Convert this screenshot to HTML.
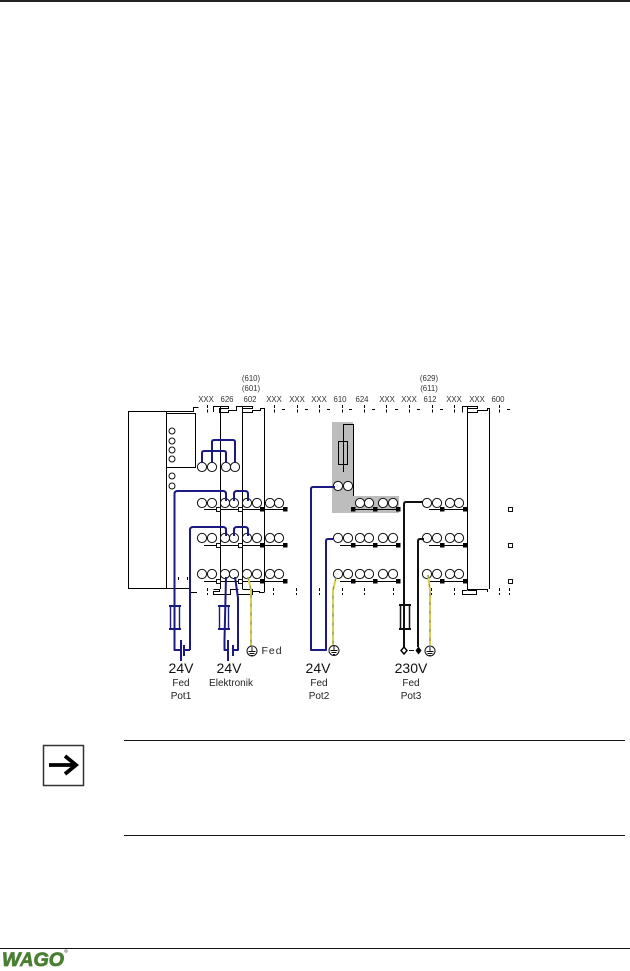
<!DOCTYPE html>
<html><head><meta charset="utf-8"><style>
html,body{margin:0;padding:0;background:#fff}
svg{display:block}
text{font-family:"Liberation Sans",sans-serif;fill:#222}
.b{fill:none;stroke:#1a1a80;stroke-width:2;stroke-linejoin:round}
.b1{fill:none;stroke:#1a1a80;stroke-width:1.4}
.k{fill:none;stroke:#000;stroke-width:1}
.kk{fill:none;stroke:#111;stroke-width:2}
.y{fill:none;stroke:#d8cf50;stroke-width:2}
.yd{fill:none;stroke:#7f9060;stroke-width:1;stroke-dasharray:3 6}
.c circle{fill:#fff;stroke:#111;stroke-width:1}
.t{font-size:7.800px;text-anchor:middle;fill:#333}
.l{font-size:10px;text-anchor:middle;fill:#222}
.v{font-size:14px;text-anchor:middle;fill:#111}
</style></head><body>
<svg width="630" height="971" viewBox="0 0 630 971" xmlns="http://www.w3.org/2000/svg">
<rect x="0" y="0" width="630" height="2" fill="#222"/>
<!-- grey -->
<path d="M332 422H353V496H399V513H332Z" fill="#bdbdbd"/>
<!-- labels -->
<text class="t" x="251" y="381">(610)</text><text class="t" x="251" y="391">(601)</text>
<text class="t" x="429" y="381">(629)</text><text class="t" x="429" y="391">(611)</text>
<text class="t" x="206" y="402">XXX</text><text class="t" x="227" y="402">626</text><text class="t" x="250" y="402">602</text>
<text class="t" x="274" y="402">XXX</text><text class="t" x="297" y="402">XXX</text><text class="t" x="319" y="402">XXX</text>
<text class="t" x="340" y="402">610</text><text class="t" x="362" y="402">624</text><text class="t" x="387" y="402">XXX</text>
<text class="t" x="409" y="402">XXX</text><text class="t" x="430" y="402">612</text><text class="t" x="454" y="402">XXX</text>
<text class="t" x="477" y="402">XXX</text><text class="t" x="498" y="402">600</text>
<!-- module -->
<path class="k" d="M166.500 411.500H128.500V588.500H166.500V411.500ZM166.500 413.500H195.500V467.500H166.500M166.500 411.500H193.500V407.500H198.500"/>
<path class="k" d="M166.500 588.500H190.500V592.500H197"/>
<!-- top connector outline -->
<path class="k" d="M213.500 412V406.500H228.500V408.500H219.500V412.500H228.500V410.500H236.500V406.500H252.500V408.500H242.500V412.500H252.500V410.500H260.500V408.500H264.500"/>
<path class="k" d="M462.500 412.500V406.500H477.500V408.500H467.500V412.500H477.500V410.500H487.500V408.500H489.500"/>
<!-- bottom connector outline -->
<path class="k" d="M213.500 589.500H219.500V591.500H213.500V594.500H230.500V589.500H238.500M238.500 594.500H252.500V589.500H242.500M252.500 591.500H259.500V592.500H264.500"/>
<path class="k" d="M467.500 590.500H462.500V594.500H476.500V590.500H468.500V589.500H476.500M476.500 589.500H487.500V592"/>
<!-- vertical lines -->
<path class="k" d="M220.500 407V589M242.500 407V589M264.500 408V592M467.500 407V590M489.500 408V589"/>
<!-- ticks -->
<path class="k" stroke-dasharray="3 1.500" d="M207.500 405V413M274.500 405V413M297.500 405V413M319.500 405V413M342.500 405V413M364.500 405V413M386.500 405V413M409.500 405V413M432.500 405V413M454.500 405V413M499.500 405V413"/>
<path class="k" d="M282 409.500H285M305 409.500H308M327 409.500H330M349 409.500H352M372 409.500H375M395 409.500H398M417 409.500H420M440 409.500H443M507 409.500H510"/>
<path class="k" stroke-dasharray="3 2" d="M207.500 588V595M273.500 588V595M296.500 588V595M319.500 588V595M342.500 588V595M364.500 588V595M393.500 588V595M431.500 588V595M454.500 588V595M499.500 588V595M509.500 588V595M178.500 577V582M187.500 577V582"/>
<!-- small circles -->
<g class="c"><circle cx="172" cy="431" r="3"/><circle cx="172" cy="441" r="3"/><circle cx="172" cy="450" r="3"/><circle cx="172" cy="459" r="3"/><circle cx="172" cy="476" r="3"/><circle cx="172" cy="486" r="3"/></g>
<!-- row lines -->
<path class="k" d="M204 509.500H285M204 545.500H285M204 581.500H285M340 545.500H398M340 581.500H398M355 509.500H398M429 509.500H465M429 545.500H465M429 581.500H465"/>
<!-- fuse top -->
<path class="k" d="M343.500 472V424.500H353.500V496M338.500 441.500H347.500V464.500H338.500Z"/>
<!-- circles -->
<g class="c">
<circle cx="202" cy="467" r="4.600"/><circle cx="212" cy="467" r="4.600"/><circle cx="226" cy="467" r="4.600"/><circle cx="235" cy="467" r="4.600"/>
<circle cx="338" cy="486" r="4.600"/><circle cx="348" cy="486" r="4.600"/>
<circle cx="202" cy="503" r="4.600"/><circle cx="212" cy="503" r="4.600"/><circle cx="225" cy="503" r="4.600"/><circle cx="234" cy="503" r="4.600"/><circle cx="247" cy="503" r="4.600"/><circle cx="257" cy="503" r="4.600"/><circle cx="270" cy="503" r="4.600"/><circle cx="279" cy="503" r="4.600"/>
<circle cx="202" cy="538" r="4.600"/><circle cx="212" cy="538" r="4.600"/><circle cx="225" cy="538" r="4.600"/><circle cx="234" cy="538" r="4.600"/><circle cx="247" cy="538" r="4.600"/><circle cx="257" cy="538" r="4.600"/><circle cx="270" cy="538" r="4.600"/><circle cx="279" cy="538" r="4.600"/>
<circle cx="202" cy="574" r="4.600"/><circle cx="212" cy="574" r="4.600"/><circle cx="225" cy="574" r="4.600"/><circle cx="234" cy="574" r="4.600"/><circle cx="247" cy="574" r="4.600"/><circle cx="257" cy="574" r="4.600"/><circle cx="270" cy="574" r="4.600"/><circle cx="279" cy="574" r="4.600"/>
<circle cx="360" cy="503" r="4.600"/><circle cx="369" cy="503" r="4.600"/><circle cx="383" cy="503" r="4.600"/><circle cx="393" cy="503" r="4.600"/>
<circle cx="338" cy="538" r="4.600"/><circle cx="348" cy="538" r="4.600"/><circle cx="360" cy="538" r="4.600"/><circle cx="369" cy="538" r="4.600"/><circle cx="383" cy="538" r="4.600"/><circle cx="393" cy="538" r="4.600"/>
<circle cx="338" cy="574" r="4.600"/><circle cx="348" cy="574" r="4.600"/><circle cx="360" cy="574" r="4.600"/><circle cx="369" cy="574" r="4.600"/><circle cx="383" cy="574" r="4.600"/><circle cx="393" cy="574" r="4.600"/>
<circle cx="427" cy="503" r="4.600"/><circle cx="437" cy="503" r="4.600"/><circle cx="450" cy="503" r="4.600"/><circle cx="459" cy="503" r="4.600"/>
<circle cx="427" cy="538" r="4.600"/><circle cx="437" cy="538" r="4.600"/><circle cx="450" cy="538" r="4.600"/><circle cx="459" cy="538" r="4.600"/>
<circle cx="427" cy="574" r="4.600"/><circle cx="437" cy="574" r="4.600"/><circle cx="450" cy="574" r="4.600"/><circle cx="459" cy="574" r="4.600"/>
</g>
<!-- squares -->
<g fill="#000">
<rect x="260" y="507" width="4.500" height="4.500"/><rect x="283" y="507" width="4.500" height="4.500"/>
<rect x="260" y="543" width="4.500" height="4.500"/><rect x="283" y="543" width="4.500" height="4.500"/>
<rect x="260" y="579" width="4.500" height="4.500"/><rect x="283" y="579" width="4.500" height="4.500"/>
<rect x="351" y="507" width="4.500" height="4.500"/><rect x="373" y="507" width="4.500" height="4.500"/><rect x="396" y="507" width="4.500" height="4.500"/>
<rect x="351" y="543" width="4.500" height="4.500"/><rect x="373" y="543" width="4.500" height="4.500"/><rect x="396" y="543" width="4.500" height="4.500"/>
<rect x="351" y="579" width="4.500" height="4.500"/><rect x="373" y="579" width="4.500" height="4.500"/><rect x="396" y="579" width="4.500" height="4.500"/>
<rect x="440" y="507" width="4.500" height="4.500"/><rect x="463" y="507" width="4.500" height="4.500"/>
<rect x="440" y="543" width="4.500" height="4.500"/><rect x="463" y="543" width="4.500" height="4.500"/>
<rect x="440" y="579" width="4.500" height="4.500"/><rect x="463" y="579" width="4.500" height="4.500"/>
</g>
<g fill="#fff" stroke="#111" stroke-width="1">
<rect x="216.500" y="507.500" width="4" height="4"/><rect x="238.500" y="507.500" width="4" height="4"/>
<rect x="216.500" y="543.500" width="4" height="4"/><rect x="238.500" y="543.500" width="4" height="4"/>
<rect x="216.500" y="579.500" width="4" height="4"/><rect x="238.500" y="579.500" width="4" height="4"/>
<rect x="508.500" y="507.500" width="4" height="4"/><rect x="508.500" y="543.500" width="4" height="4"/><rect x="508.500" y="579.500" width="4" height="4"/>
</g>
<!-- blue wires -->
<g class="b">
<path d="M202 463V453Q202 451 204 451H224Q226 451 226 453V463"/>
<path d="M212 463V442Q212 440 214 440H233Q235 440 235 442V463"/>
<path d="M174.500 640V494Q174.500 491 177.500 491H223Q226 491 226 494V501"/>
<path d="M234 501V494Q234 491 237 491H245Q248 491 248 494V501"/>
<path d="M190 650V530Q190 527 193 527H223Q226 527 226 530V536"/>
<path d="M234 536V530Q234 527 237 527H245Q248 527 248 530V536"/>
<path d="M174.500 630V650H181M184 650H190M181 640V661M184 645V656"/>
<path d="M226 577L224.500 640V650H228M228 640V661M233 645V656M233 650H238V598L235 577"/>
<path d="M335 487H313Q311 487 311 489V650H326V541Q326 539 328 539H333"/>
</g>
<g class="b1">
<path d="M170.500 606V629M179.500 606V629M219.500 606V629M228.500 606V629"/>
<path d="M169 606H181M169 629H181M218 606H230M218 629H230" stroke-width="2"/>
</g>
<!-- black wires -->
<g class="kk">
<path d="M423 502H406Q404 502 404 504V647M424 539H420Q418 539 418 541V647"/>
<path d="M400.500 604V629M409.500 604V629" stroke-width="1.500"/>
<path d="M399 605H411M399 629H411"/>
<path d="M409 650.500H414" stroke-width="1"/>
</g>
<path d="M404 647l3 3.500-3 3.500-3-3.500z" fill="#fff" stroke="#000" stroke-width="1.400"/>
<path d="M418.500 646.500l3 4-3 4-3-4z" fill="#000"/>
<!-- yellow -->
<path class="y" d="M248 577L251 590V646"/><path class="yd" d="M248 577L251 590V646"/>
<path class="y" d="M336 578L333 590V645"/><path class="yd" d="M336 578L333 590V645"/>
<path class="y" d="M428 575L430 590V645"/><path class="yd" d="M428 575L430 590V645"/>
<!-- grounds -->
<g fill="#fff" stroke="#111" stroke-width="1">
<circle cx="252" cy="651" r="5"/><circle cx="334" cy="650.500" r="5"/><circle cx="430" cy="651" r="5"/>
</g>
<path d="M252 647V651M248.500 651.500H255.500M249.500 653.500H254.500M251 655.500H253M334 646V650M330.500 650.500H337.500M331.500 652.500H336.500M333 654.500H335M430 647V651M426.500 651.500H433.500M427.500 653.500H432.500M429 655.500H431" stroke="#111" stroke-width="1" fill="none"/>
<!-- text -->
<text class="l" x="272" y="654" letter-spacing="1" style="font-size:10.500px">Fed</text>
<text class="v" x="181" y="673">24V</text><text class="v" x="229" y="673">24V</text><text class="v" x="318" y="673">24V</text><text class="v" x="411" y="673">230V</text>
<text class="l" x="181" y="686">Fed</text><text class="l" x="231" y="686">Elektronik</text><text class="l" x="319" y="686">Fed</text><text class="l" x="411" y="686">Fed</text>
<text class="l" x="181" y="699">Pot1</text><text class="l" x="319" y="699">Pot2</text><text class="l" x="411" y="699">Pot3</text>
<!-- note -->
<rect x="43.500" y="745.500" width="40" height="40" fill="#fff" stroke="#333" stroke-width="1.500"/>
<path d="M49 765H75" stroke="#000" stroke-width="3.800"/>
<path d="M65 756L76 765L65 774" fill="none" stroke="#000" stroke-width="3.800"/>
<path d="M124 740.500H625M124 835.500H625" stroke="#111" stroke-width="1"/>
<!-- footer -->
<rect x="0" y="948" width="630" height="1" fill="#111"/>
<text x="2" y="966" textLength="62" lengthAdjust="spacingAndGlyphs" style="font-size:19px;font-weight:bold;font-style:italic;fill:#4a7f33;stroke:#4a7f33;stroke-width:.8">WAGO</text>
<path d="M18 967L27 950" stroke="#fff" stroke-width="1.500"/>
<circle cx="66" cy="951" r="1.200" fill="none" stroke="#555" stroke-width=".6"/>
</svg>
</body></html>
